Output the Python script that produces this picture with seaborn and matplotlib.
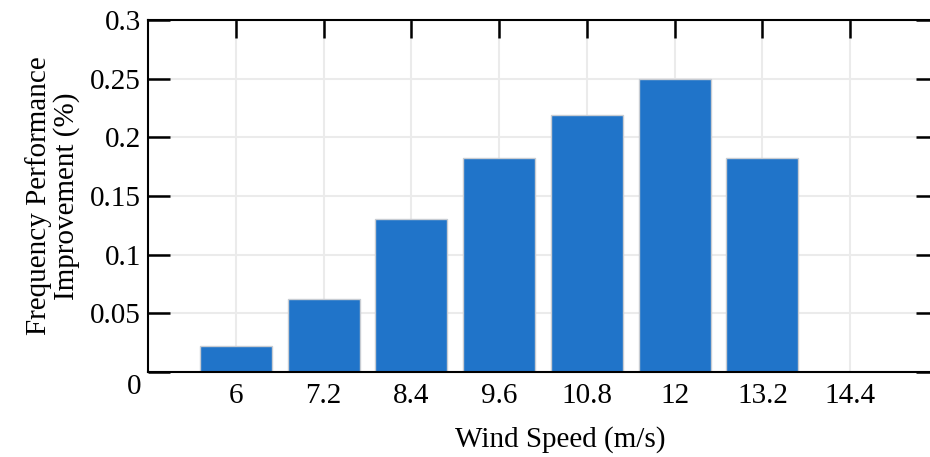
#import libraries
import seaborn as sns
import numpy as np
import matplotlib.pyplot as plt
import matplotlib.transforms as mtransforms

#data
wind_speed = [6, 7.2, 8.4, 9.6, 10.8, 12, 13.2, 14.4]
tick_labels = ["6", "7.2", "8.4", "9.6", "10.8", "12", "13.2", "14.4"]
improvement = [0.022, 0.062, 0.130, 0.182, 0.219, 0.250, 0.182, 0.0]
y_ticks = [0, 0.05, 0.1, 0.15, 0.2, 0.25, 0.3]
y_tick_labels = ["0", "0.05", "0.1", "0.15", "0.2", "0.25", "0.3"]

sns.set_theme(style="whitegrid")
plt.rcParams['font.family'] = ['Liberation Serif', 'DejaVu Serif']

fig = plt.figure(figsize=(9.3, 4.57), dpi=100)
ax = fig.add_axes([148/930, 85/457, 790/930, 352/457])

sns.barplot(x=wind_speed, y=improvement, native_scale=True, width=0.82,
            color="#2074c9", saturation=1, edgecolor="#c8ccd2", linewidth=1, ax=ax)

ax.set_xlim(4.8, 15.6)
ax.set_ylim(0, 0.3)
ax.set_xticks(wind_speed)
ax.set_xticklabels(tick_labels)
ax.set_yticks(y_ticks)
ax.set_yticklabels(y_tick_labels)

#grid and frame
ax.grid(True, color="#ebebeb", linewidth=1.5)
ax.set_axisbelow(True)
for s in ax.spines.values():
    s.set_color("black")
    s.set_linewidth(1.5)
    s.set_visible(True)

ax.tick_params(axis="x", which="both", direction="in", bottom=False, top=True,
               length=13, width=1.8, color="black", labelsize=21, pad=8, labelcolor="black")
ax.tick_params(axis="y", which="both", direction="in", left=True, right=True,
               length=16, width=1.8, color="black", labelsize=21, pad=5, labelcolor="black")

#the zero label sits a bit lower in the original
zero_lab = ax.get_yticklabels()[0]
zero_lab.set_transform(zero_lab.get_transform() +
                       mtransforms.ScaledTranslation(0, -12/100, fig.dpi_scale_trans))

ax.set_xlabel("Wind Speed (m/s)", fontsize=21, color="black")
ax.xaxis.set_label_coords((560 - 148) / 790, -0.155)
ax.set_ylabel("Frequency Performance\nImprovement (%)", fontsize=21,
              color="black", linespacing=1.05)
ax.yaxis.set_label_coords(-(148 - 80) / 790, 0.5)

plt.savefig("out.png", dpi=100)
